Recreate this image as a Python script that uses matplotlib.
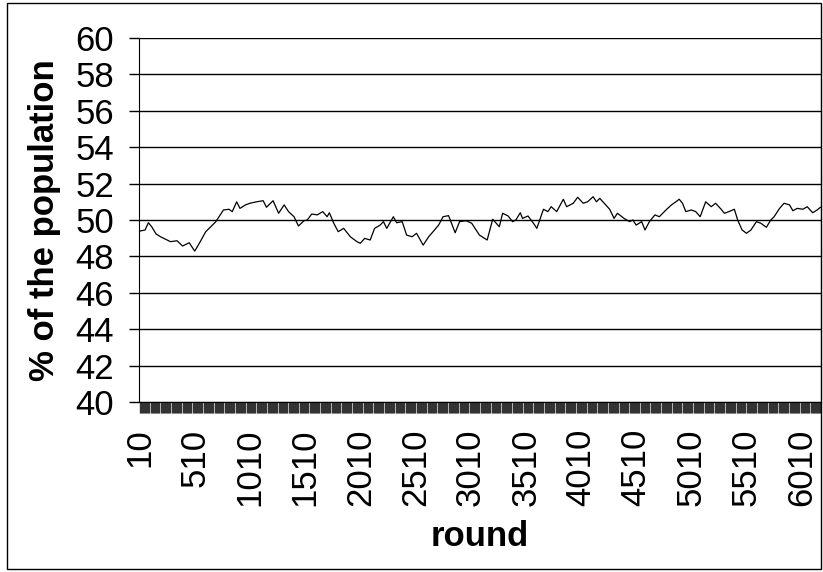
import matplotlib
matplotlib.use('Agg')
from matplotlib import pyplot as plt
from matplotlib.patches import Rectangle
import numpy as np

plt.rcParams['font.family'] = ['Liberation Sans', 'DejaVu Sans']

# rounds (x) and % of the population (y)
rounds = [10, 60, 90, 120, 160, 200, 230, 290, 350, 400, 460, 510, 560, 610,
          650, 700, 730, 770, 820, 850, 890, 920, 970, 1010, 1070, 1130, 1160,
          1220, 1270, 1320, 1360, 1410, 1450, 1500, 1530, 1570, 1620, 1670,
          1710, 1730, 1770, 1810, 1860, 1920, 1980, 2010, 2050, 2100, 2140,
          2190, 2220, 2250, 2310, 2340, 2390, 2430, 2480, 2520, 2580, 2630,
          2670, 2720, 2760, 2810, 2870, 2910, 2970, 3020, 3050, 3090, 3160,
          3210, 3270, 3300, 3350, 3390, 3420, 3460, 3480, 3530, 3580, 3610,
          3670, 3710, 3740, 3790, 3850, 3880, 3940, 3980, 4030, 4070, 4120,
          4150, 4180, 4220, 4270, 4310, 4340, 4400, 4450, 4480, 4510, 4560,
          4590, 4630, 4680, 4720, 4780, 4830, 4870, 4900, 4930, 4960, 5010,
          5050, 5090, 5140, 5190, 5230, 5280, 5310, 5350, 5400, 5430, 5470,
          5510, 5550, 5600, 5640, 5690, 5730, 5760, 5810, 5850, 5900, 5930,
          5970, 6020, 6060, 6110, 6150, 6180]
share = [49.39, 49.45, 49.85, 49.63, 49.23, 49.08, 48.99, 48.81, 48.86, 48.57,
         48.75, 48.29, 48.81, 49.36, 49.60, 49.90, 50.18, 50.55, 50.59, 50.46,
         51.00, 50.64, 50.83, 50.92, 51.00, 51.06, 50.70, 51.06, 50.37, 50.83,
         50.46, 50.18, 49.67, 49.96, 50.00, 50.33, 50.28, 50.46, 50.18, 50.40,
         49.82, 49.36, 49.54, 49.08, 48.81, 48.72, 48.99, 48.90, 49.54, 49.72,
         49.91, 49.54, 50.18, 49.85, 49.91, 49.17, 49.08, 49.27, 48.62, 49.08,
         49.36, 49.72, 50.18, 50.24, 49.30, 49.91, 49.96, 49.82, 49.54, 49.17,
         48.90, 50.04, 49.63, 50.37, 50.22, 49.91, 50.00, 50.40, 50.09, 50.22,
         49.82, 49.54, 50.59, 50.46, 50.73, 50.46, 51.14, 50.73, 50.92, 51.25,
         50.92, 51.00, 51.28, 51.00, 51.19, 50.92, 50.59, 50.09, 50.37, 50.09,
         49.91, 50.00, 49.72, 49.91, 49.45, 49.91, 50.28, 50.18, 50.55, 50.83,
         51.00, 51.14, 50.92, 50.46, 50.55, 50.46, 50.18, 51.00, 50.73, 50.92,
         50.59, 50.37, 50.46, 50.59, 50.00, 49.45, 49.27, 49.45, 49.91, 49.82,
         49.60, 50.00, 50.18, 50.64, 50.92, 50.83, 50.51, 50.64, 50.59, 50.73,
         50.40, 50.55, 50.70]

first_round = 10
last_round = 6180
label_rounds = list(range(10, 6011, 500))
y_ticks = list(range(40, 61, 2))

fig = plt.figure(figsize=(8.23, 5.72), dpi=100)
# outer chart frame
fig.patches.append(Rectangle((7 / 823, 3 / 572), 814 / 823, 566 / 572,
                             transform=fig.transFigure, fill=False,
                             edgecolor='black', linewidth=1))

ax = fig.add_axes([139 / 823, 1 - 402 / 572, 682 / 823, 364 / 572])
ax.plot(rounds, share, color='black', linewidth=0.9)

ax.set_ylim(40, 60)
ax.set_xlim(first_round - 5, last_round + 5)
ax.set_yticks(y_ticks)
ax.yaxis.grid(True, color='black', linewidth=1)
ax.set_axisbelow(True)
ax.tick_params(axis='y', direction='out', length=7, width=1, pad=11,
               labelsize=25)

# a tick for every category (every 10 rounds), label every 500
ax.set_xticks(label_rounds)
ax.set_xticklabels([str(r) for r in label_rounds], rotation=90)
ax.set_xticks(list(range(first_round, last_round + 1, 10)), minor=True)
ax.tick_params(axis='x', which='major', direction='out', length=8, width=1.0,
               pad=11, labelsize=25, color='#333333')
ax.tick_params(axis='x', which='minor', direction='out', length=8, width=1.0,
               color='#333333')

for side in ['left', 'bottom']:
    ax.spines[side].set_color('black')
ax.spines['top'].set_visible(False)
ax.spines['right'].set_color('#555555')

fig.text(45 / 823, 1 - 220 / 572, '% of the population', rotation=90,
         ha='center', va='center', fontsize=25, fontweight='bold')
fig.text(480 / 823, 1 - 537 / 572, 'round', ha='center', va='center',
         fontsize=25, fontweight='bold')

plt.savefig('out.png', dpi=100)
